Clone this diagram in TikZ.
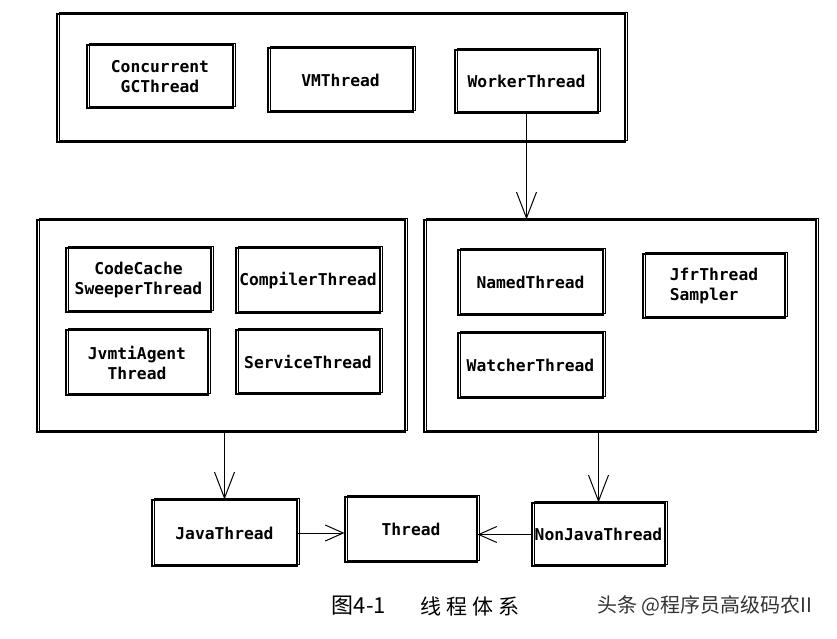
\documentclass[tikz,border=0pt]{standalone}
\usepackage{fontspec}
\setmonofont{DejaVu Sans Mono}
\newfontfamily\cjk{Noto Sans CJK SC}
\usetikzlibrary{arrows.meta}
\tikzset{
  sk/.style={draw, line width=1.1pt,
    postaction={draw, line width=0.6pt, transform canvas={shift={(2pt,1.5pt)}}}},
  tbox/.style={sk, font=\ttfamily\bfseries\fontsize{16.3}{20}\selectfont, align=center, inner sep=0pt},
  outer/.style={sk, inner sep=0pt},
  arr/.style={line width=1pt, -{Straight Barb[length=26pt,width=20pt,line width=1pt]}},
  harr/.style={line width=1pt, -{Straight Barb[length=18pt,width=16pt,line width=1pt]}},
}
\begin{document}
\begin{tikzpicture}[x=1pt,y=-1pt]
\useasboundingbox[fill=white] (0,0) rectangle (837,638);
% outer groups
\node[outer, minimum width=568pt, minimum height=128pt] (top) at (341,78) {};
\node[outer, minimum width=368pt, minimum height=212pt] (lbox) at (221,326) {};
\node[outer, minimum width=392pt, minimum height=212pt] (rbox) at (620,326) {};
% top row
\node[tbox, minimum width=146pt, minimum height=63pt] (cgc) at (160,76.5) {Concurrent\\GCThread};
\node[tbox, minimum width=145pt, minimum height=64pt] (vm) at (340.5,80) {VMThread};
\node[tbox, minimum width=143pt, minimum height=63pt] (worker) at (526.5,81.5) {WorkerThread};
% left group
\node[tbox, minimum width=145pt, minimum height=64pt] (ccs) at (138.5,280) {CodeCache\\SweeperThread};
\node[tbox, minimum width=144pt, minimum height=65pt] (comp) at (308,280.5) {CompilerThread};
\node[tbox, minimum width=142pt, minimum height=65pt] (jvmti) at (137,362.5) {JvmtiAgent\\Thread};
\node[tbox, minimum width=144pt, minimum height=64pt] (serv) at (308,362) {ServiceThread};
% right group
\node[tbox, minimum width=145pt, minimum height=65pt] (named) at (530.5,282.5) {NamedThread};
\node[tbox, align=left, minimum width=142pt, minimum height=64pt] (jfr) at (714,286) {JfrThread\\Sampler};
\node[tbox, minimum width=145pt, minimum height=65pt] (watcher) at (530.5,365.5) {WatcherThread};
% bottom row
\node[tbox, minimum width=145pt, minimum height=66pt] (java) at (224.5,533) {JavaThread};
\node[tbox, minimum width=132pt, minimum height=65pt] (thread) at (411,529.5) {Thread};
\node[tbox, minimum width=133pt, minimum height=63pt] (nonjava) at (598.5,534.5) {NonJavaThread};
% arrows
\draw[arr] (worker.south) -- (worker.south |- rbox.north);
\draw[arr] (java.north |- lbox.south) -- (java.north);
\draw[arr] (nonjava.north |- rbox.south) -- (nonjava.north);
\draw[harr] (java.east) -- (java.east -| thread.west);
\draw[harr] (nonjava.west) -- (nonjava.west -| thread.east);
% caption
\node[font=\cjk\fontsize{22}{26}\selectfont, inner sep=0pt] (cap1) at (359,606) {图4-1};
\node[font=\cjk\fontsize{21}{26}\selectfont, inner sep=0pt] (cap2) at (470,606) {线\hspace{5pt}程\hspace{5pt}体\hspace{5pt}系};
\node[font=\cjk\fontsize{20}{24}\selectfont, text=black!80, inner sep=0pt] (wm) at (705,606) {头条 @程序员高级码农II};
\end{tikzpicture}
\end{document}
